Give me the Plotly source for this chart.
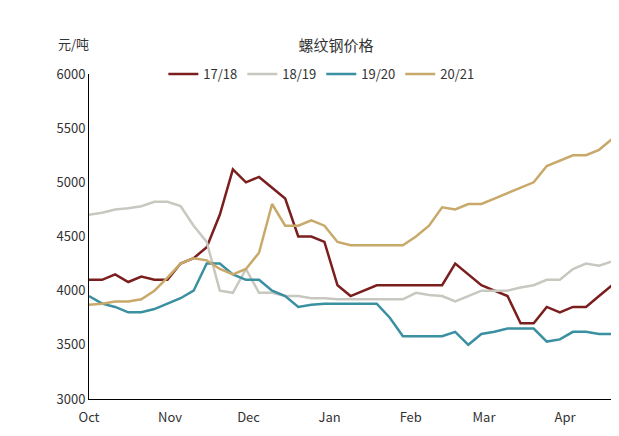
import plotly.graph_objects as go

days = list(range(0, 201, 5)) + [203]
s1718 = [4100,4100,4150,4080,4130,4100,4100,4250,4300,4400,4700,5120,5000,5050,4950,4850,4500,4500,4450,4050,3950,4000,4050,4050,4050,4050,4050,4050,4250,4150,4050,4000,3950,3700,3700,3850,3800,3850,3850,3950,4050,4130]
s1819 = [4700,4720,4750,4760,4780,4820,4820,4780,4600,4450,4000,3980,4200,3980,3980,3950,3950,3930,3930,3920,3920,3920,3920,3920,3920,3980,3960,3950,3900,3950,4000,4000,4000,4030,4050,4100,4100,4200,4250,4230,4270,4270]
s1920 = [3950,3880,3850,3800,3800,3830,3880,3930,4000,4250,4250,4150,4100,4100,4000,3950,3850,3870,3880,3880,3880,3880,3880,3750,3580,3580,3580,3580,3620,3500,3600,3620,3650,3650,3650,3530,3550,3620,3620,3600,3600,3600]
s2021 = [3870,3880,3900,3900,3920,4000,4120,4250,4300,4280,4200,4150,4200,4350,4800,4600,4600,4650,4600,4450,4420,4420,4420,4420,4420,4500,4600,4770,4750,4800,4800,4850,4900,4950,5000,5150,5200,5250,5250,5300,5400,5420]
names = ["17/18", "18/19", "19/20", "20/21"]
colors = ["#7B1E1E", "#C8C8C0", "#3A8FA0", "#C8A96A"]
tick_days = [0, 31, 61, 92, 123, 151, 182]
tick_text = ["Oct", "Nov", "Dec", "Jan", "Feb", "Mar", "Apr"]

fig = go.Figure()
for n, s, c in zip(names, [s1718, s1819, s1920, s2021], colors):
    fig.add_trace(go.Scatter(x=days, y=s, name=n, mode="lines", line=dict(color=c, width=2.5)))

fig.update_layout(
    width=619, height=436, paper_bgcolor="white", plot_bgcolor="white",
    margin=dict(l=81, r=7, t=66, b=45),
    font=dict(family="Noto Sans CJK SC", size=13, color="#333"),
    title=dict(text="螺纹钢价格", x=0.53, y=0.925, xanchor="center", font=dict(size=15)),
    legend=dict(orientation="h", x=0.14, y=1.0, xanchor="left", yanchor="middle", font=dict(size=13)),
    xaxis=dict(range=[0, 203], tickvals=tick_days, ticktext=tick_text, showgrid=False,
               showline=True, linecolor="#000", ticks="", zeroline=False, ticklabelstandoff=6),
    yaxis=dict(range=[3000, 6000], dtick=500, showgrid=False, showline=True, linecolor="#000",
               ticks="", zeroline=False),
    annotations=[dict(text="元/吨", xref="paper", yref="paper", x=-0.03, y=1.13, showarrow=False,
                      xanchor="center", font=dict(size=13))],
)
fig.write_html("out.html")
